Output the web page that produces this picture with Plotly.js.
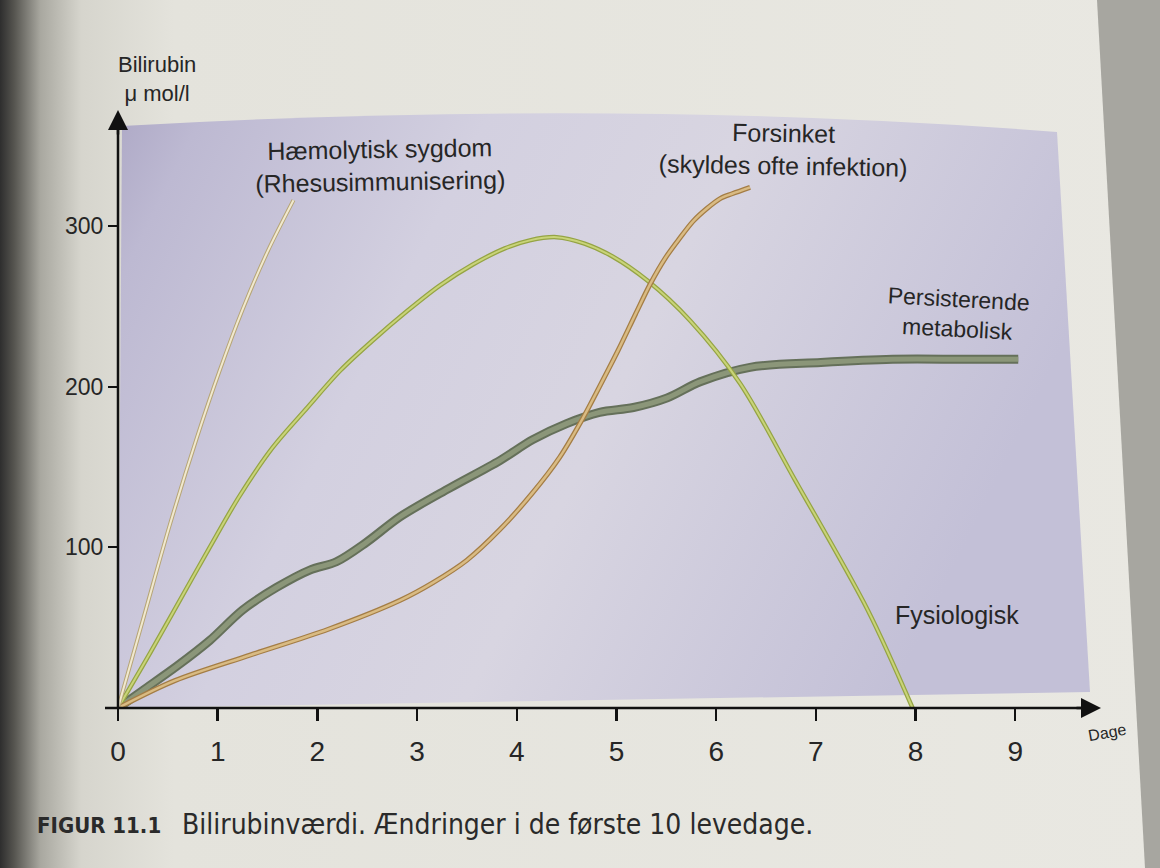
<!DOCTYPE html>
<html>
<head>
<meta charset="utf-8">
<script src="https://cdn.plot.ly/plotly-3.0.1.min.js"></script>
<style>
  html, body { margin: 0; padding: 0; background: #e6e5de; }
  #chart { width: 1160px; height: 868px; }
</style>
</head>
<body>
<div id="chart"></div>
<script>
// ---- Data ----
const xTickVals = [0, 1, 2, 3, 4, 5, 6, 7, 8, 9];
const xTickText = ["0", "1", "2", "3", "4", "5", "6", "7", "8", "9"];
const yTickVals = [100, 200, 300];
const yTickText = ["100", "200", "300"];

// Hæmolytisk sygdom (Rhesusimmunisering)
const haemDays = [0, 0.26, 0.52, 0.79, 1.02, 1.25, 1.50, 1.76];
const haemVals = [0, 57, 114, 168, 210, 248, 284, 316];

// Fysiologisk
const fysDays = [0, 0.32, 0.62, 0.92, 1.22, 1.55, 1.90, 2.23, 2.56, 2.90, 3.23, 3.56, 3.88, 4.13, 4.40, 4.68, 4.96, 5.31, 5.74, 6.24, 6.79, 7.52, 7.97];
const fysVals = [0, 34, 67, 100, 132, 162, 187, 210, 229, 247, 263, 276, 286, 291, 293, 289, 281, 266, 241, 202, 142, 61, 0];

// Persisterende metabolisk
const persDays = [0, 0.25, 0.59, 0.92, 1.25, 1.59, 1.93, 2.19, 2.49, 2.83, 3.33, 3.83, 4.16, 4.50, 4.83, 5.17, 5.51, 5.84, 6.34, 7.05, 7.77, 8.49, 9.03];
const persVals = [0, 11, 26, 42, 61, 75, 86, 91, 103, 119, 137, 154, 167, 177, 184, 187, 193, 203, 212, 215, 217, 217, 217];

// Forsinket (skyldes ofte infektion)
const forsDays = [0, 0.57, 1.33, 2.11, 2.83, 3.16, 3.50, 3.83, 4.16, 4.43, 4.66, 4.83, 5.02, 5.19, 5.34, 5.49, 5.63, 5.77, 5.91, 6.04, 6.16, 6.34];
const forsVals = [0, 17, 33, 49, 67, 78, 92, 111, 134, 156, 180, 200, 223, 245, 264, 280, 292, 303, 311, 317, 320, 324];

// ---- Geometry helpers (plot area in pixels) ----
const W = 1160, H = 868;
const M = { l: 118, r: 65, t: 125, b: 160 };
const PW = W - M.l - M.r, PH = H - M.t - M.b;
const px = x => (x - M.l) / PW;          // pixel x -> paper x
const py = y => (H - M.b - y) / PH;      // pixel y -> paper y

const bgSvg = "<svg xmlns='http://www.w3.org/2000/svg' width='1160' height='868' viewBox='0 0 1160 868' preserveAspectRatio='none'>" +
  "<defs>" +
  "<linearGradient id='pg' x1='0' y1='0' x2='1' y2='0'>" +
  "<stop offset='0' stop-color='#2e2e2e'/><stop offset='0.012' stop-color='#55544f'/>" +
  "<stop offset='0.035' stop-color='#a9a8a0'/><stop offset='0.07' stop-color='#d6d5cd'/>" +
  "<stop offset='0.15' stop-color='#e4e3dc'/><stop offset='1' stop-color='#e9e8e2'/>" +
  "</linearGradient>" +
  "<linearGradient id='lv' x1='0' y1='0' x2='1' y2='0.3'>" +
  "<stop offset='0' stop-color='#aea9c6'/><stop offset='0.08' stop-color='#bdb9d2'/>" +
  "<stop offset='0.35' stop-color='#d3d0e0'/><stop offset='0.6' stop-color='#d8d5e1'/>" +
  "<stop offset='1' stop-color='#c3c0d7'/>" +
  "</linearGradient>" +
  "</defs>" +
  "<rect width='1160' height='868' fill='url(#pg)'/>" +
  "<path d='M1097 0 L1160 0 L1160 868 L1145 868 Z' fill='#a7a6a0'/>" +
  "<path d='M118 708 L122 126 Q 620 98 1057 132 L1090 692 Z' fill='url(#lv)'/>" +
  "</svg>";

function tube(name, xs, ys, outer, inner, wOut, wIn) {
  return [
    { x: xs, y: ys, type: "scatter", mode: "lines", name: name, showlegend: false,
      line: { color: outer, width: wOut, shape: "spline", smoothing: 0.9 }, hoverinfo: "skip" },
    { x: xs, y: ys, type: "scatter", mode: "lines", name: name, showlegend: false,
      line: { color: inner, width: wIn, shape: "spline", smoothing: 0.9 }, hoverinfo: "skip" }
  ];
}

const data = [].concat(
  tube("Persisterende metabolisk", persDays, persVals, "#65705a", "#8b9679", 9, 5),
  tube("Fysiologisk", fysDays, fysVals, "#95a444", "#c9d479", 4.5, 2),
  tube("Forsinket", forsDays, forsVals, "#a47d45", "#d9bb83", 5, 2.5),
  tube("Hæmolytisk sygdom", haemDays, haemVals, "#b6a576", "#f1e9cf", 4, 2)
);

const txt = "#262626";
const lab = "Liberation Sans, Arial, sans-serif";
const narrow = "DejaVu Sans Condensed, Liberation Sans Narrow, Arial Narrow, sans-serif";

function note(text, xPix, yPix, size, angle, extra) {
  return Object.assign({
    text: text, xref: "paper", yref: "paper", x: px(xPix), y: py(yPix),
    xanchor: "center", yanchor: "middle", showarrow: false, textangle: angle || 0,
    borderpad: 0, font: { family: lab, size: size, color: txt }
  }, extra || {});
}

const annotations = [
  note("Bilirubin<br>μ mol/l", 157, 79, 22),
  note("Hæmolytisk sygdom<br>(Rhesusimmunisering)", 380, 165, 25, -1),
  note("Forsinket<br>(skyldes ofte infektion)", 783, 149, 25, 1),
  note("Persisterende<br>metabolisk", 958, 314, 23, 3),
  note("Fysiologisk", 957, 615, 25, 0),
  note("Dage", 1107, 732, 16, -10),
  note("<b>FIGUR 11.1</b>", 36, 825, 22, 0, { xanchor: "left", font: { family: narrow, size: 22, color: "#2a2a2a" } }),
  note("Bilirubinværdi. Ændringer i de første 10 levedage.", 181, 824, 28, 0, { xanchor: "left", font: { family: narrow, size: 28, color: "#2a2a2a" } }),
  // arrow heads on the axes
  { text: "", xref: "paper", yref: "paper", x: 0, y: py(110), ax: 0, ay: 26, showarrow: true,
    arrowhead: 2, arrowsize: 1.6, arrowwidth: 2.5, arrowcolor: "#111", standoff: 0 },
  { text: "", xref: "paper", yref: "paper", x: px(1101), y: 0, ax: -26, ay: 0, showarrow: true,
    arrowhead: 2, arrowsize: 1.6, arrowwidth: 2.5, arrowcolor: "#111", standoff: 0 }
];

const shapes = [
  { type: "line", xref: "paper", yref: "paper", x0: px(105), x1: px(1090), y0: 0, y1: 0,
    line: { color: "#111", width: 2.5 } },
  { type: "line", xref: "paper", yref: "paper", x0: 0, x1: 0, y0: 0, y1: py(120),
    line: { color: "#111", width: 2.5 } }
];

const layout = {
  width: W, height: H,
  margin: { l: M.l, r: M.r, t: M.t, b: M.b, pad: 0 },
  paper_bgcolor: "#e6e5de",
  plot_bgcolor: "rgba(0,0,0,0)",
  showlegend: false,
  hovermode: false,
  xaxis: {
    range: [0, 9.8], tickmode: "array", tickvals: xTickVals, ticktext: xTickText,
    ticks: "outside", ticklen: 12, tickwidth: 2.5, tickcolor: "#111",
    showgrid: false, zeroline: false, showline: false, ticklabelstandoff: 6,
    tickfont: { family: lab, size: 28, color: txt }, fixedrange: true
  },
  yaxis: {
    range: [0, PH / 1.607], tickmode: "array", tickvals: yTickVals, ticktext: yTickText,
    ticks: "outside", ticklen: 9, tickwidth: 2, tickcolor: "#111",
    showgrid: false, zeroline: false, showline: false,
    tickfont: { family: lab, size: 23, color: txt }, fixedrange: true
  },
  images: [{
    source: "data:image/svg+xml;charset=utf-8," + encodeURIComponent(bgSvg),
    xref: "paper", yref: "paper", x: px(0), y: py(0), sizex: W / PW, sizey: H / PH,
    xanchor: "left", yanchor: "top", sizing: "stretch", layer: "below"
  }],
  annotations: annotations,
  shapes: shapes
};

Plotly.newPlot("chart", data, layout, { staticPlot: true, displayModeBar: false });
</script>
</body>
</html>
